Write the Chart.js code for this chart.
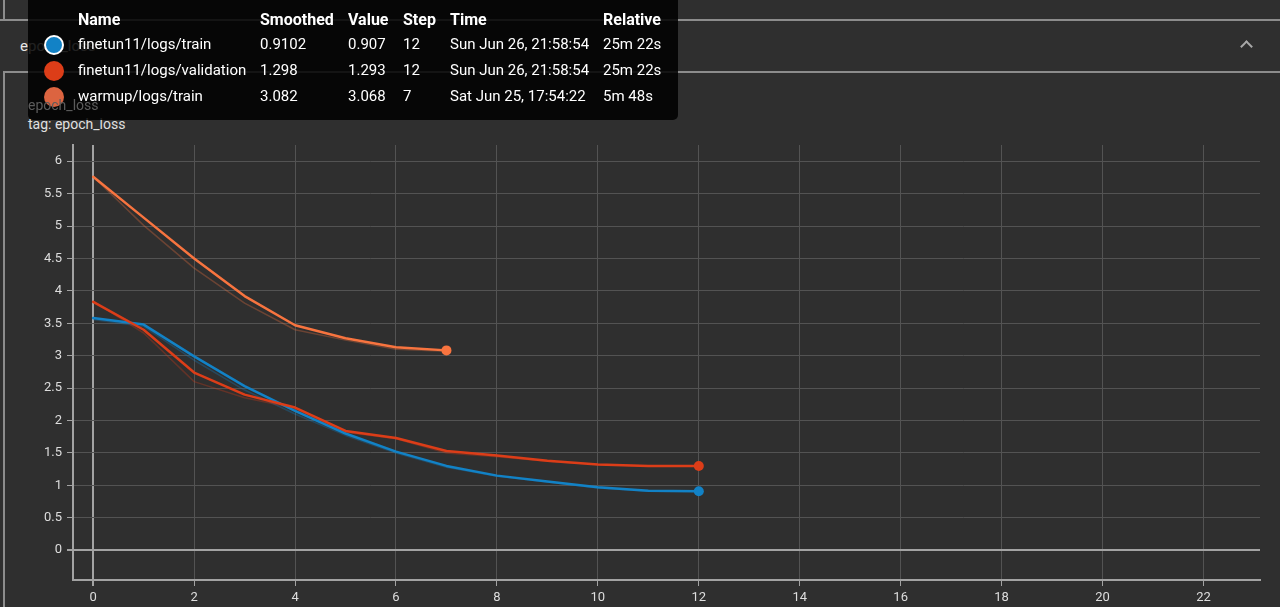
<!DOCTYPE html>
<html>
<head>
<meta charset="utf-8">
<script src="https://cdn.jsdelivr.net/npm/chart.js@4/dist/chart.umd.min.js"></script>
<style>
  html, body { margin:0; padding:0; background:#2f2f2f; width:1280px; height:607px; overflow:hidden; font-family: Roboto, "Noto Sans", sans-serif; }
  #c { position:absolute; left:0; top:0; }
  .ln { position:absolute; background:#8c8c8c; }
  .txt { position:absolute; white-space:nowrap; }
  #tip { position:absolute; left:28px; top:-6px; width:650px; height:126px; background:rgba(0,0,0,0.86); border-radius:5px; color:#fff; font-size:15px; }
  #tip .cell { position:absolute; white-space:nowrap; }
  #tip .hd { font-weight:bold; font-size:16px; }
  .dot { position:absolute; width:20px; height:20px; border-radius:50%; box-sizing:border-box; }
  #chev { position:absolute; left:1242px; top:42px; width:7px; height:7px; border-left:2px solid #a8a8a8; border-top:2px solid #a8a8a8; transform:rotate(45deg); }
</style>
</head>
<body>
<div class="ln" style="left:0;top:19px;width:1280px;height:2px;"></div>
<div class="ln" style="left:3px;top:0;width:2px;height:20px;"></div>
<div class="ln" style="left:3px;top:71px;width:1277px;height:2px;"></div>
<div class="ln" style="left:3px;top:72px;width:2px;height:535px;"></div>
<div class="txt" style="left:20px;top:37px;color:#e8e8e8;font-size:15px;">epoch_loss</div>
<div id="chev"></div>
<div class="txt" style="left:28px;top:116px;color:#e0e0e0;font-size:14px;">tag: epoch_loss</div>
<canvas id="c" width="1280" height="607"></canvas>
<div id="tip"></div>
<div class="txt" style="left:28px;top:97px;color:#5c5c5c;font-size:14px;z-index:5;">epoch_loss</div>
<script>
// ---- data ----
const stepsFinetune = [0,1,2,3,4,5,6,7,8,9,10,11,12];
const stepsWarmup = [0,1,2,3,4,5,6,7];
const trainSmoothed = [3.58,3.48,2.99,2.53,2.15,1.80,1.52,1.30,1.15,1.06,0.97,0.915,0.9102];
const trainRaw      = [3.56,3.45,2.93,2.47,2.10,1.77,1.50,1.28,1.14,1.05,0.96,0.91,0.907];
const valSmoothed   = [3.83,3.40,2.74,2.40,2.20,1.84,1.73,1.53,1.46,1.38,1.32,1.30,1.298];
const valRaw        = [3.84,3.35,2.60,2.35,2.19,1.82,1.72,1.50,1.44,1.37,1.32,1.30,1.293];
const warmSmoothed  = [5.76,5.13,4.50,3.92,3.47,3.27,3.13,3.082];
const warmRaw       = [5.76,5.01,4.35,3.81,3.40,3.24,3.10,3.068];
const xTicks = [0,2,4,6,8,10,12,14,16,18,20,22];
const yTicks = [0,0.5,1,1.5,2,2.5,3,3.5,4,4.5,5,5.5,6];
const tipRows = [
  ["finetun11/logs/train","0.9102","0.907","12","Sun Jun 26, 21:58:54","25m 22s"],
  ["finetun11/logs/validation","1.298","1.293","12","Sun Jun 26, 21:58:54","25m 22s"],
  ["warmup/logs/train","3.082","3.068","7","Sat Jun 25, 17:54:22","5m 48s"]
];
const tipHeader = ["Name","Smoothed","Value","Step","Time","Relative"];

const BLUE = '#1282c6', RED = '#dc3d18', ORANGE = '#f8743f';

function pts(xs, ys){ return xs.map((x,i)=>({x:x, y:ys[i]})); }
function alpha(hex, a){
  const n = parseInt(hex.slice(1),16);
  return `rgba(${(n>>16)&255},${(n>>8)&255},${n&255},${a})`;
}
function rawDs(xs, ys, col){
  return { data: pts(xs,ys), borderColor: alpha(col,0.3), backgroundColor: alpha(col,0.3), borderWidth: 1.5,
    pointRadius: 0, tension: 0, order: 2, borderCapStyle:'round', borderJoinStyle:'round', fill:false };
}
function smDs(xs, ys, col){
  return { data: pts(xs,ys), borderColor: col, backgroundColor: col, borderWidth: 2.5, tension: 0, order: 1,
    borderJoinStyle:'round', borderCapStyle:'round', fill:false,
    pointRadius: (c)=> c.dataIndex === ys.length-1 ? 5 : 0, pointBorderWidth:0 };
}

const datasets = [
  rawDs(stepsWarmup, warmRaw, ORANGE),
  rawDs(stepsFinetune, valRaw, RED),
  rawDs(stepsFinetune, trainRaw, BLUE),
  smDs(stepsWarmup, warmSmoothed, ORANGE),
  smDs(stepsFinetune, valSmoothed, RED),
  smDs(stepsFinetune, trainSmoothed, BLUE)
];

const GRID = '#535353', AXIS = '#a3a3a3';

new Chart(document.getElementById('c'), {
  type: 'line',
  data: { datasets },
  options: {
    responsive: false, animation: false, events: [],
    layout: { padding: { top: 145, right: 20, left: 0, bottom: 0 } },
    plugins: { legend: { display:false }, tooltip: { enabled:false } },
    scales: {
      x: {
        type: 'linear', min: -0.4, max: 23.12,
        afterBuildTicks: (s)=>{ s.ticks = xTicks.map(v=>({value:v})); },
        afterFit: (s)=>{ s.height = 27; },
        grid: { color: (c)=> c.tick && c.tick.value===0 ? AXIS : GRID, lineWidth: (c)=> c.tick && c.tick.value===0 ? 2 : 1,
                tickColor: AXIS, tickLength: 6, drawTicks: true },
        border: { color: AXIS, width: 2 },
        ticks: { color:'#dedede', font:{ family:'Roboto', size:13 }, padding: 4, maxRotation:0,
                 callback: (v)=> String(v) }
      },
      y: {
        type: 'linear', min: -0.46, max: 6.25,
        afterBuildTicks: (s)=>{ s.ticks = yTicks.map(v=>({value:v})); },
        afterFit: (s)=>{ s.width = 73; },
        grid: { color: (c)=> c.tick && c.tick.value===0 ? AXIS : GRID, lineWidth: (c)=> c.tick && c.tick.value===0 ? 2 : 1,
                tickColor: AXIS, tickLength: 6 },
        border: { color: AXIS, width: 2 },
        ticks: { color:'#dedede', font:{ family:'Roboto', size:13 }, padding: 5,
                 callback: (v)=> String(v) }
      }
    }
  }
});

// tooltip overlay (text)
const tip = document.getElementById('tip');
const colX = [50,232,320,375,422,575];
const rowY = [16,41,67,93];
function cell(txt, x, y, cls){
  const d = document.createElement('div'); d.className = 'cell' + (cls?' '+cls:'');
  d.style.left = x+'px'; d.style.top = y+'px'; d.textContent = txt; tip.appendChild(d);
}
tipHeader.forEach((h,i)=>cell(h, colX[i], rowY[0], 'hd'));
const dotCols = [BLUE, RED, '#dc6440'];
tipRows.forEach((r,ri)=>{
  r.forEach((t,i)=>cell(t, colX[i], rowY[ri+1]));
  const d = document.createElement('div'); d.className='dot';
  d.style.left = '16px'; d.style.top = (rowY[ri+1]-0)+'px'; d.style.background = dotCols[ri];
  if (ri===0){ d.style.border='2.5px solid #fff'; }
  tip.appendChild(d);
});
</script>
</body>
</html>
